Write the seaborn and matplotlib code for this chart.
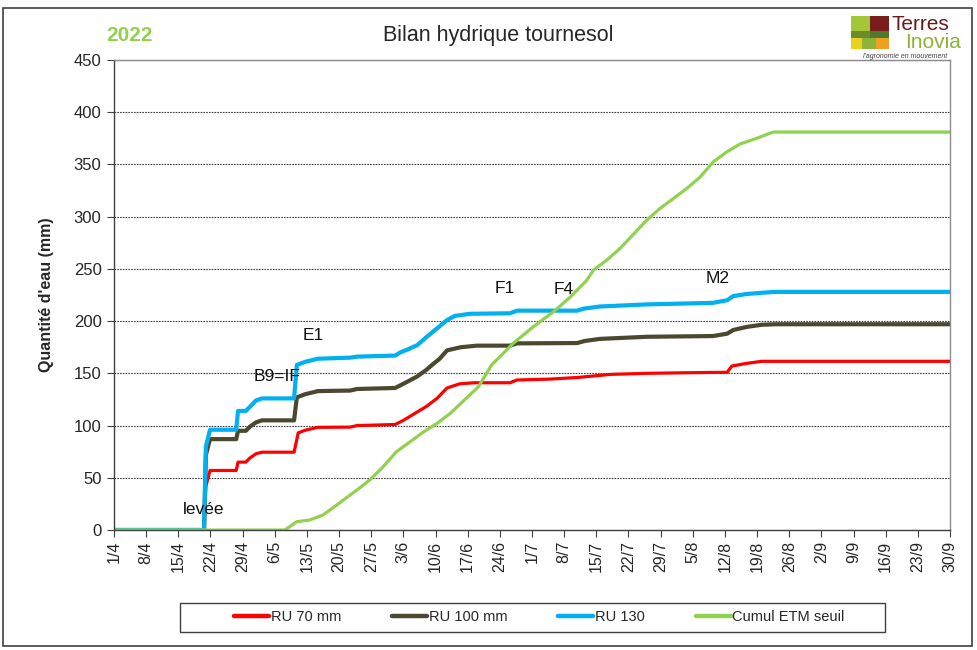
import matplotlib.pyplot as plt
import matplotlib.patches as mpatches
import pandas as pd
import seaborn as sns
from matplotlib.lines import Line2D

START = pd.Timestamp('2022-04-01')
END = pd.Timestamp('2022-09-30')

# cumulative water (mm), x = days after 1 April
ru70_days = [0, 19.6, 20.0, 20.9, 26.6, 27.0, 28.7, 29.6, 30.9, 32.2, 39.2, 40.1, 41.6, 44.4,
             51.4, 52.9, 61.2, 63.0, 66.0, 67.9, 70.3, 72.5, 75.3, 78.5, 86.2, 87.7, 95.0,
             100.8, 104.5, 108.0, 116.0, 125.0, 133.5, 134.5, 137.8, 141.0, 182]
ru70_mm = [0, 0, 42, 57, 57, 65, 65, 69, 73, 74.5, 74.5, 93, 95.5, 98.3,
           98.5, 100, 101, 105, 113, 118, 126, 136, 140, 141, 141, 143.6, 144.5,
           146, 147.5, 149, 150, 150.6, 151, 157, 159.6, 161.5, 161.5]

ru100_days = [0, 19.6, 20.0, 20.9, 26.6, 27.0, 28.7, 29.6, 30.9, 32.2, 39.2, 39.8, 41.6, 44.4,
              51.4, 52.9, 61.2, 63.0, 66.0, 67.9, 69.5, 70.9, 72.5, 75.5, 79.0, 86.2, 87.7,
              100.8, 102.5, 105.8, 116.0, 130.4, 133.5, 134.8, 137.8, 141.0, 144.0, 182]
ru100_mm = [0, 0, 72, 87, 87, 95, 95, 99, 103, 105, 105, 127, 130, 133,
            133.5, 135, 136, 140, 147, 153, 159, 164, 172, 175, 176.5, 176.5, 178.7,
            179, 181, 183, 185, 185.7, 188, 191.5, 194.5, 196.5, 197, 197]

ru130_days = [0, 19.6, 20.0, 20.9, 26.6, 27.0, 28.7, 29.6, 30.9, 32.2, 39.2, 39.8, 41.6, 44.4,
              51.4, 52.9, 61.2, 62.3, 64.0, 66.0, 68.1, 70.3, 72.5, 74.2, 77.5, 86.2, 87.7,
              100.8, 102.3, 105.8, 116.0, 130.4, 133.5, 134.8, 137.8, 140.6, 143.9, 182]
ru130_mm = [0, 0, 80, 96, 96, 114, 114, 118, 124, 126, 126, 158, 161, 164,
            165, 166, 167, 170, 173, 177, 185, 193, 201, 205, 207, 207.5, 210,
            210, 212, 214, 216, 217.5, 220, 224, 226, 227, 228, 228]

etm_days = [0, 37.2, 39.8, 42.6, 45.5, 48.5, 52.8, 55.7, 58.6, 61.5, 64.5, 67.4, 70.3, 73.2,
            79.3, 82.2, 86.9, 91.3, 95.7, 99.3, 102.9, 104.4, 107.3, 110.2, 116.0, 118.9,
            124.7, 127.6, 130.5, 133.4, 136.3, 139.9, 143.5, 182]
etm_mm = [0, 0, 8, 9.6, 14.4, 24, 38, 48, 60.6, 75, 84.6, 94, 102, 111.7,
          137, 158, 178.7, 194.7, 209, 223, 239, 249, 258.5, 269.7, 296.8, 308,
          327, 338, 352.6, 362, 369.6, 375, 381, 381]

series_labels = ['RU 70 mm', 'RU 100 mm', 'RU 130', 'Cumul ETM seuil']
series_colors = ['#FF0000', '#4B4830', '#00B0F0', '#92D050']
series_widths = [2.3, 3.0, 3.0, 2.3]

stage_labels = ['levée', 'B9=IF', 'E1', 'F1', 'F4', 'M2']
stage_days = [19.4, 35.5, 43.3, 85.1, 97.8, 131.3]
stage_mm = [20, 146.5, 186, 231, 230, 241]

y_ticks = list(range(0, 451, 50))


def to_dates(days):
    return START + pd.to_timedelta(days, unit='D')


sns.set_style('white')
plt.rcParams['font.family'] = ['Liberation Sans', 'DejaVu Sans']

fig = plt.figure(figsize=(9.77, 6.5), dpi=100)
ax = fig.add_axes([0.1167, 0.1846, 0.8557, 0.7231])

all_days = [ru70_days, ru100_days, ru130_days, etm_days]
all_mm = [ru70_mm, ru100_mm, ru130_mm, etm_mm]
for days, mm, color, lw in zip(all_days, all_mm, series_colors, series_widths):
    sns.lineplot(x=to_dates(days), y=mm, color=color, linewidth=lw,
                 estimator=None, sort=False, ax=ax, legend=False)

for label, d, v in zip(stage_labels, stage_days, stage_mm):
    ax.text(to_dates([d])[0], v, label, ha='center', va='center', fontsize=12.5, color='#111111')

# axes
ax.set_xlim(START, END)
ax.set_ylim(0, 450)
ax.set_yticks(y_ticks)
ax.tick_params(axis='y', labelsize=12, length=5, direction='out', left=True, color='#404040', pad=4)
tick_dates = pd.date_range(START, END, freq='7D')
ax.set_xticks(tick_dates)
ax.set_xticklabels([f'{d.day}/{d.month}' for d in tick_dates], rotation=90, fontsize=11.5)
ax.tick_params(axis='x', length=5, direction='out', bottom=True, color='#404040', pad=3)
ax.set_xlabel('')
ax.set_ylabel("Quantité d'eau (mm)", fontsize=11.5, fontweight='bold', labelpad=14)
ax.yaxis.grid(True, linestyle=(0, (1.5, 1.0)), color='#404040', linewidth=0.8)
ax.xaxis.grid(False)
for side in ['left', 'bottom']:
    ax.spines[side].set_color('#404040')
    ax.spines[side].set_linewidth(1.0)
for side in ['top', 'right']:
    ax.spines[side].set_color('#8c8c8c')
    ax.spines[side].set_linewidth(1.0)

# title and year
fig.text(0.51, 0.945, 'Bilan hydrique tournesol', ha='center', va='center', fontsize=15.5)
fig.text(0.133, 0.945, '2022', ha='center', va='center', fontsize=15, fontweight='bold',
         color='#92D050')

# legend with its own box
handles = [Line2D([0], [0], color=c, linewidth=3.2) for c in series_colors]
fig.legend(handles, series_labels, loc='center', bbox_to_anchor=(0.552, 0.0508), ncol=4,
           frameon=False, fontsize=10.5, handlelength=2.4, handletextpad=0.1, columnspacing=3.5)
fig.patches.append(mpatches.Rectangle((180 / 977, 18 / 650), 705 / 977, 29 / 650,
                                      transform=fig.transFigure, fill=False,
                                      edgecolor='#404040', linewidth=1.0))

# outer frame
fig.patches.append(mpatches.Rectangle((3 / 977, 4 / 650), 969 / 977, 638 / 650,
                                      transform=fig.transFigure, fill=False,
                                      edgecolor='#404040', linewidth=1.2))

# logo (approximation)
logo_blocks = [
    (851, 16, 19, 15, '#A4C639'), (870, 16, 19, 15, '#7A1C1C'),
    (851, 31, 19, 7, '#6E8B2A'), (870, 31, 19, 7, '#4E7A2A'),
    (851, 38, 11, 11, '#E8D21C'), (862, 38, 14, 11, '#8DB33A'), (876, 38, 13, 11, '#F0A020'),
]
for x, y, w, h, c in logo_blocks:
    fig.patches.append(mpatches.Rectangle((x / 977, (650 - y - h) / 650), w / 977, h / 650,
                                          transform=fig.transFigure, facecolor=c,
                                          edgecolor='none'))
fig.text(892 / 977, 1 - 25 / 650, 'Terres', ha='left', va='center', fontsize=15, color='#6B1A1A')
fig.text(961 / 977, 1 - 43 / 650, 'Inovia', ha='right', va='center', fontsize=15, color='#8DB33A')
fig.text(905 / 977, 1 - 56 / 650, "l'agronomie en mouvement", ha='center', va='center',
         fontsize=5, style='italic', color='#444444')

fig.savefig('out.png', dpi=100)
